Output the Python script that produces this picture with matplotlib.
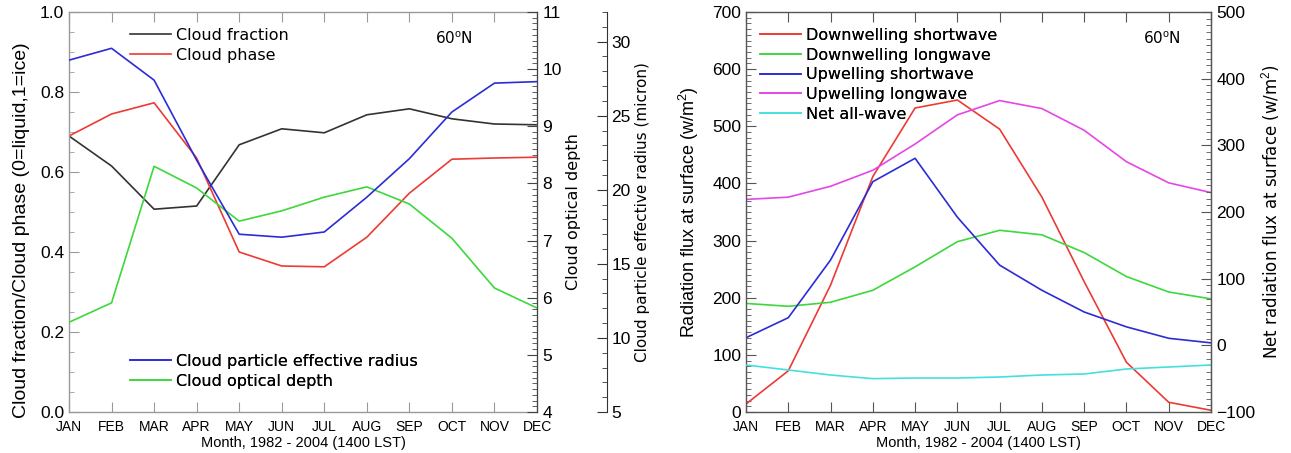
import matplotlib
matplotlib.use("Agg")
import matplotlib.pyplot as plt
import matplotlib.ticker as ticker
import numpy as np

plt.rcParams["font.family"] = ["Liberation Sans", "DejaVu Sans"]
plt.rcParams["mathtext.fontset"] = "custom"
plt.rcParams["mathtext.rm"] = "Liberation Sans"

# ── Data ──────────────────────────────────────────────────────────────────────
MONTHS = ["JAN", "FEB", "MAR", "APR", "MAY", "JUN",
          "JUL", "AUG", "SEP", "OCT", "NOV", "DEC"]

cloud_fraction = [0.69, 0.615, 0.507, 0.515, 0.668, 0.708,
                  0.698, 0.743, 0.758, 0.733, 0.720, 0.718]
cloud_phase = [0.69, 0.745, 0.773, 0.635, 0.400, 0.365,
               0.363, 0.437, 0.547, 0.632, 0.635, 0.637]
eff_radius = [28.75, 29.55, 27.4, 22.0, 17.0, 16.8,
              17.15, 19.5, 22.1, 25.25, 27.2, 27.3]
optical_depth = [5.57, 5.91, 8.3, 7.92, 7.34, 7.52,
                 7.76, 7.94, 7.64, 7.04, 6.17, 5.82]

dn_sw = [14, 72, 222, 412, 532, 546, 495, 376, 228, 87, 17, 3]
dn_lw = [190, 185, 192, 213, 254, 298, 318, 310, 279, 237, 210, 198]
up_sw = [130, 165, 266, 403, 444, 341, 257, 213, 175, 149, 129, 121]
up_lw = [372, 376, 395, 423, 469, 520, 545, 531, 493, 438, 401, 384]
net_all = [-29.5, -37, -44.5, -50, -49, -49, -47.5, -44.5, -43, -35.5, -32.5, -29.5]

C_BLACK = "#333333"
C_RED = "#ec3a34"
C_BLUE = "#2c2cd6"
C_GREEN = "#3cd83c"
C_MAGENTA = "#e646e6"
C_CYAN = "#44e0e0"

HERSHEY = ["DejaVu Sans"]          # wide, plotter-like text (legends, right labels)

W, H = 1291, 453
fig = plt.figure(figsize=(W / 100, H / 100), dpi=100)

x = np.arange(len(MONTHS))
TICK_FS = 12.5
LW = 1.2


def style_axis(ax, spine_color):
    for s in ax.spines.values():
        s.set_color(spine_color)
        s.set_linewidth(1.0)
    ax.set_xlim(0, 11)
    ax.set_xticks(x)
    ax.set_xticklabels(MONTHS, fontsize=10)
    ax.tick_params(axis="x", direction="in", top=True, length=7,
                   color=spine_color, pad=6)
    ax.tick_params(axis="y", which="major", direction="in", length=7,
                   color=spine_color, labelsize=TICK_FS)
    ax.tick_params(axis="y", which="minor", direction="in", length=3.5,
                   color=spine_color)


def right_axis(ax, color, pad):
    for s in ["left", "top", "bottom"]:
        ax.spines[s].set_visible(False)
    ax.spines["right"].set_color(color)
    ax.tick_params(axis="y", which="major", direction="in", length=7,
                   color=color, labelsize=TICK_FS, pad=pad)
    ax.tick_params(axis="y", which="minor", direction="in", length=3.5,
                   color=color)


def leg(ax, handles, xa, ya):
    lg = ax.legend(handles=handles, loc="upper left", bbox_to_anchor=(xa, ya),
                   frameon=False, prop={"family": HERSHEY, "size": 11.5},
                   handlelength=2.6, handletextpad=0.3, labelspacing=0.29,
                   borderpad=0, borderaxespad=0)
    ax.add_artist(lg)


# ── Left panel: cloud properties ──────────────────────────────────────────────
axL = fig.add_axes([69 / W, 41 / H, 468 / W, 400 / H])
style_axis(axL, "#9a9a9a")
axL.set_ylim(0, 1.0)
axL.yaxis.set_major_locator(ticker.MultipleLocator(0.2))
axL.yaxis.set_minor_locator(ticker.MultipleLocator(0.05))
axL.yaxis.set_major_formatter(ticker.FormatStrFormatter("%.1f"))
axL.set_ylabel("Cloud fraction/Cloud phase (0=liquid,1=ice)", fontsize=14,
               labelpad=7)
axL.yaxis.label.set_y(0.455)
axL.set_xlabel("Month, 1982 - 2004 (1400 LST)", fontsize=10.5, labelpad=1)

l_cf, = axL.plot(x, cloud_fraction, color=C_BLACK, lw=LW, label="Cloud fraction")
l_cp, = axL.plot(x, cloud_phase, color=C_RED, lw=LW, label="Cloud phase")

axT = axL.twinx()
axT.set_ylim(4, 11)
axT.yaxis.set_major_locator(ticker.MultipleLocator(1))
axT.yaxis.set_minor_locator(ticker.MultipleLocator(0.1))
right_axis(axT, "#444444", 4)
axT.set_ylabel("Cloud optical depth", family=HERSHEY, fontsize=11.5, labelpad=3)
l_od, = axT.plot(x, optical_depth, color=C_GREEN, lw=LW, label="Cloud optical depth")

axR = axL.twinx()
axR.set_ylim(5, 32)
axR.yaxis.set_major_locator(ticker.MultipleLocator(5))
axR.yaxis.set_minor_locator(ticker.MultipleLocator(1))
right_axis(axR, "#333333", 3)
axR.spines["right"].set_position(("outward", 50.4))
axR.set_ylabel("Cloud particle effective radius (micron)", family=HERSHEY,
               fontsize=11, labelpad=3)
l_er, = axR.plot(x, eff_radius, color=C_BLUE, lw=LW,
                 label="Cloud particle effective radius")

leg(axR, [l_cf, l_cp], 0.13, 0.96)
leg(axR, [l_er, l_od], 0.13, 0.145)
axR.text(0.782, 0.935, "60$^{\\rm o}$N", transform=axR.transAxes,
         family=HERSHEY, fontsize=11, va="center", ha="left")

# ── Right panel: surface radiation ────────────────────────────────────────────
axF = fig.add_axes([746 / W, 41 / H, 465 / W, 400 / H])
style_axis(axF, "#555555")
axF.set_ylim(0, 700)
axF.yaxis.set_major_locator(ticker.MultipleLocator(100))
axF.yaxis.set_minor_locator(ticker.MultipleLocator(10))
axF.set_ylabel("Radiation flux at surface (w/m$^2$)", fontsize=13, labelpad=8)
axF.set_xlabel("Month, 1982 - 2004 (1400 LST)", fontsize=10.5, labelpad=1)

h1, = axF.plot(x, dn_sw, color=C_RED, lw=LW, label="Downwelling shortwave")
h2, = axF.plot(x, dn_lw, color=C_GREEN, lw=LW, label="Downwelling longwave")
h3, = axF.plot(x, up_sw, color=C_BLUE, lw=LW, label="Upwelling shortwave")
h4, = axF.plot(x, up_lw, color=C_MAGENTA, lw=LW, label="Upwelling longwave")

axN = axF.twinx()
axN.set_ylim(-100, 500)
axN.yaxis.set_major_locator(ticker.MultipleLocator(100))
axN.yaxis.set_minor_locator(ticker.MultipleLocator(10))
right_axis(axN, "#555555", 4)
axN.yaxis.set_major_formatter(ticker.FuncFormatter(
    lambda v, _: f"\u2212{abs(int(v))}" if v < 0 else f"{int(v)}"))
axN.set_ylabel("Net radiation flux at surface (w/m$^2$)", family=HERSHEY,
               fontsize=12, labelpad=3)
h5, = axN.plot(x, net_all, color=C_CYAN, lw=LW, label="Net all-wave")

leg(axN, [h1, h2, h3, h4, h5], 0.03, 0.96)
axN.text(0.854, 0.935, "60$^{\\rm o}$N", transform=axN.transAxes,
         family=HERSHEY, fontsize=11, va="center", ha="left")

fig.savefig("out.png", dpi=100)
